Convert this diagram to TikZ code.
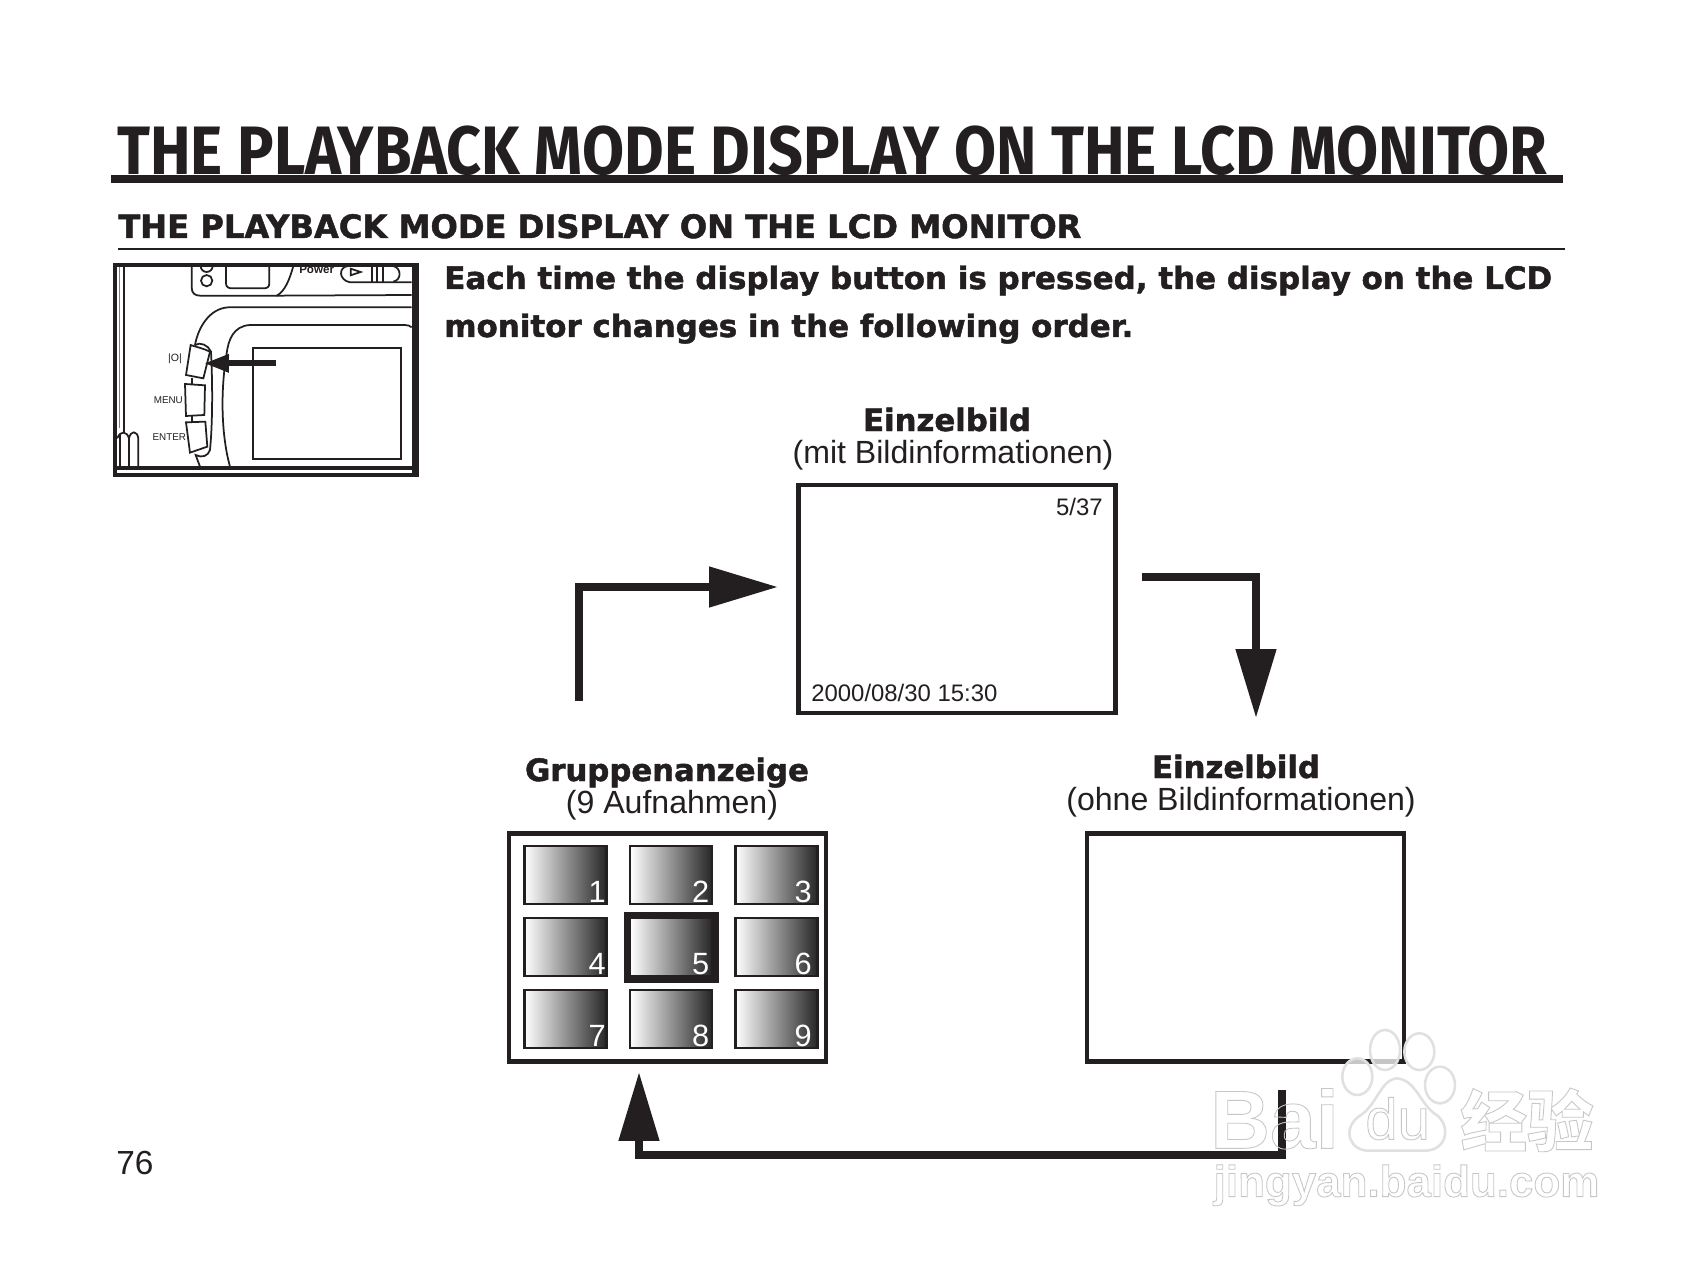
\documentclass[tikz,border=0pt]{standalone}
\usepackage{fontspec}
\setmainfont{Liberation Sans}
\newfontfamily\headfont[FakeStretch=0.89]{Fira Sans}
\newfontfamily\blackfont[BoldFeatures={FakeBold=1.5}]{DejaVu Sans}
\newfontfamily\cjkfont{Noto Sans CJK SC}
\usetikzlibrary{arrows.meta}
\definecolor{ink}{HTML}{231F20}
\newcommand{\wmtext}[1]{\special{pdf:code 1 Tr 0.78 G 0.5 w}#1\special{pdf:code 0 Tr}}
\tikzstyle{txt}=[inner sep=0pt, anchor=base west, text=ink]
\tikzstyle{capt}=[inner sep=0pt, anchor=base, text=ink, font=\fontsize{18.25}{20}\selectfont]
\tikzstyle{bold}=[inner sep=0pt, anchor=base, text=ink, font=\blackfont\bfseries\fontsize{17.5}{20}\selectfont]
\tikzstyle{panel}=[draw=ink, line width=0.085cm, minimum width=6.34cm, minimum height=4.56cm, inner sep=0pt]
\tikzstyle{thumb}=[draw=ink, line width=0.05cm, left color=white, right color=black!85, minimum width=1.64cm, minimum height=1.16cm, inner sep=0pt]
\tikzstyle{num}=[text=white, inner sep=1pt, anchor=south east, yshift=0.01cm, font=\fontsize{17.5}{18}\selectfont]
\tikzstyle{flow}=[draw=ink, line width=0.16cm, -{Triangle[length=1.38cm, width=0.78cm]}]
\tikzstyle{cam}=[draw=ink, line width=0.035cm]
\tikzstyle{wmark}=[inner sep=0pt, text=black!17, anchor=base west]
\begin{document}
\begin{tikzpicture}[x=0.02cm, y=-0.02cm]
    \useasboundingbox (0,0) rectangle (1700,1280);
    \fill[white] (0,0) rectangle (1700,1280);

    % headings
    \node[txt, font=\headfont\bfseries\fontsize{39}{40}\selectfont] (title) at (117,175) {THE PLAYBACK MODE DISPLAY ON THE LCD MONITOR};
    \draw[ink, line width=0.16cm] (111,179) -- (1563,179);
    \node[txt, font=\blackfont\bfseries\fontsize{18.3}{20}\selectfont] (subtitle) at (118,238) {THE PLAYBACK MODE DISPLAY ON THE LCD MONITOR};
    \draw[ink, line width=0.04cm] (118,249) -- (1565,249);
    \node[txt, font=\blackfont\bfseries\fontsize{17.6}{20}\selectfont] (line1) at (444,289) {Each time the display button is pressed, the display on the LCD};
    \node[txt, font=\blackfont\bfseries\fontsize{17.6}{20}\selectfont] (line2) at (444,337) {monitor changes in the following order.};
    \node[txt, font=\fontsize{19}{20}\selectfont] (page) at (116,1174) {76};

    % camera
    \begin{scope}[shift={(100,250)}, x=0.02cm/3, y=-0.02cm/3]
        \draw[black!50, line width=0.02cm] (57,48) -- (57,535);
        \draw[cam] (72,48) -- (72,548);
        \draw[cam] (275,48) -- (275,112) .. controls (275,130) and (285,137) .. (300,137) -- (530,137) .. controls (555,125) and (570,85) .. (580,48);
        \draw[cam] (530,137) -- (935,135);
        \draw[cam] (320,92) circle (17);
        \draw[cam] (302,48) arc (180:0:18);
        \draw[cam] (378,48) -- (378,100) .. controls (378,110) and (385,115) .. (395,115) -- (492,115) .. controls (502,115) and (508,110) .. (508,100) -- (508,48);
        \draw[cam] (745,48) .. controls (715,50) and (715,90) .. (750,97) -- (935,97);
        \draw[cam] (860,48) -- (880,48) .. controls (905,55) and (905,90) .. (880,95);
        \draw[cam] (752,56) -- (782,66) -- (752,76) -- cycle;
        \draw[cam] (815,48) -- (815,95) (830,48) -- (830,95) (848,48) -- (848,95);
        \draw[cam] (935,172) -- (385,172) .. controls (330,175) and (295,230) .. (285,285);
        \draw[cam] (935,232) .. controls (930,228) and (925,225) .. (915,225) -- (450,225) .. controls (400,228) and (385,270) .. (380,310) .. controls (360,430) and (365,560) .. (390,650);
        \draw[cam] (285,285) .. controls (300,275) and (325,285) .. (333,305) .. controls (338,400) and (338,520) .. (330,600) .. controls (325,618) and (305,625) .. (287,615) -- (300,650);
        \draw[cam, fill=white] (272,285) .. controls (285,290) and (310,295) .. (330,305) -- (310,385) -- (258,375) -- cycle;
        \draw[cam, fill=white] (255,402) -- (315,406) -- (313,495) -- (258,498) -- cycle;
        \draw[cam] (275,385) -- (275,402) (275,498) -- (275,515);
        \draw[cam, fill=white] (258,517) -- (316,515) -- (322,590) -- (270,608) -- cycle;
        \draw[cam] (460,295) rectangle (902,627);
        \draw[cam] (52,565) .. controls (60,542) and (80,542) .. (87,565) -- (87,650) (87,565) .. controls (92,540) and (112,542) .. (115,565) -- (115,650) (60,552) -- (60,650);
        \coordinate (pressa) at (527,340);
        \coordinate (pressb) at (312,340);
        \draw[draw=ink, line width=0.12cm, -{Triangle[length=0.5cm, width=0.34cm]}] (pressa) -- (pressb);
        \node[inner sep=0pt, text=ink, font=\bfseries\fontsize{6.6}{7}\selectfont] (power) at (650,60) {Power};
        \node[inner sep=0pt, text=ink, font=\fontsize{6}{7}\selectfont] (disp) at (225,325) {|O|};
        \node[inner sep=0pt, text=ink, font=\fontsize{5.6}{7}\selectfont] (menu) at (205,452) {MENU};
        \node[inner sep=0pt, text=ink, font=\fontsize{5.6}{7}\selectfont] (enter) at (208,560) {ENTER};
        \draw[ink, line width=0.08cm] (46,44) -- (46,674) -- (952,674) -- (952,44) -- cycle;
        \fill[ink] (46,648) rectangle (952,659);
        \fill[ink] (935,44) rectangle (958,674);
    \end{scope}

    % top screen
    \node[bold] (singlea) at (947,431) {Einzelbild};
    \node[capt] (singleb) at (953,463) {(mit Bildinformationen)};
    \node[panel] (info) at (957,599) {};
    \node[txt, anchor=base east, font=\fontsize{13.6}{16}\selectfont] (count) at (1103,515) {5/37};
    \node[txt, font=\fontsize{13.6}{16}\selectfont] (date) at (811,701) {2000/08/30 15:30};

    % right screen
    \node[bold] (plaina) at (1236,778) {Einzelbild};
    \node[capt] (plainb) at (1241,810) {(ohne Bildinformationen)};
    \node[panel] (plain) at (1245.5,947.5) {};

    % left screen
    \node[bold] (groupa) at (667,781) {Gruppenanzeige};
    \node[capt] (groupb) at (672,813) {(9 Aufnahmen)};
    \node[panel] (group) at (667.5,947.5) {};
    \node[thumb] (t1) at (565.5,875) {};
    \node[thumb] (t2) at (671,875) {};
    \node[thumb] (t3) at (776.5,875) {};
    \node[thumb] (t4) at (565.5,947) {};
    \node[thumb] (t5) at (671,947) {};
    \node[thumb] (t6) at (776.5,947) {};
    \node[thumb] (t7) at (565.5,1019) {};
    \node[thumb] (t8) at (671,1019) {};
    \node[thumb] (t9) at (776.5,1019) {};
    \node[draw=ink, line width=0.12cm, minimum width=1.78cm, minimum height=1.3cm, inner sep=0pt] (sel) at (671.5,947.5) {};
    \node[num] (n1) at (t1.south east) {1};
    \node[num, xshift=-0.04cm] (n2) at (t2.south east) {2};
    \node[num, xshift=-0.1cm] (n3) at (t3.south east) {3};
    \node[num] (n4) at (t4.south east) {4};
    \node[num, xshift=-0.04cm] (n5) at (t5.south east) {5};
    \node[num, xshift=-0.1cm] (n6) at (t6.south east) {6};
    \node[num] (n7) at (t7.south east) {7};
    \node[num, xshift=-0.04cm] (n8) at (t8.south east) {8};
    \node[num, xshift=-0.1cm] (n9) at (t9.south east) {9};

    % arrows
    \coordinate (upstart) at (579,701);
    \coordinate (upbend) at (579,587);
    \coordinate (uptip) at (778,587);
    \draw[flow] (upstart) -- (upbend) -- (uptip);
    \coordinate (downstart) at (1142,577);
    \coordinate (downbend) at (1256,577);
    \coordinate (downtip) at (1256,718);
    \draw[flow] (downstart) -- (downbend) -- (downtip);
    \coordinate (backstart) at (1282,1090);
    \coordinate (backa) at (1282,1155);
    \coordinate (backb) at (639,1155);
    \coordinate (backtip) at (639,1072);
    \draw[flow] (backstart) -- (backa) -- (backb) -- (backtip);

    % watermark
    \begin{scope}[shift={(1150,1020)}, x=0.02cm/3, y=-0.02cm/3]
        \draw[black!12, fill=white, fill opacity=0.75, line width=0.05cm] (705,90) ellipse (45 and 60);
        \draw[black!12, fill=white, fill opacity=0.75, line width=0.05cm] (808,95) ellipse (45 and 55);
        \draw[black!12, fill=white, fill opacity=0.75, line width=0.05cm] (622,170) ellipse (45 and 55);
        \draw[black!12, fill=white, fill opacity=0.75, line width=0.05cm] (870,195) ellipse (45 and 55);
        \draw[black!12, fill=white, line width=0.05cm] (740,175) .. controls (690,180) and (680,260) .. (625,290) .. controls (575,330) and (600,395) .. (660,392) -- (820,392) .. controls (890,395) and (905,320) .. (860,285) .. controls (810,255) and (800,180) .. (740,175) -- cycle;
        \node[wmark, font=\bfseries\fontsize{47}{47}\selectfont] (wmbai) at (180,385) {\wmtext{Bai}};
        \node[wmark, font=\fontsize{33}{33}\selectfont] (wmdu) at (645,358) {\wmtext{du}};
        \node[wmark, font=\cjkfont\bfseries\fontsize{38}{38}\selectfont] (wmjy) at (930,378) {\wmtext{经验}};
        \node[wmark, font=\bfseries\fontsize{25}{25}\selectfont] (wmurl) at (190,530) {\wmtext{jingyan.baidu.com}};
    \end{scope}
\end{tikzpicture}
\end{document}
